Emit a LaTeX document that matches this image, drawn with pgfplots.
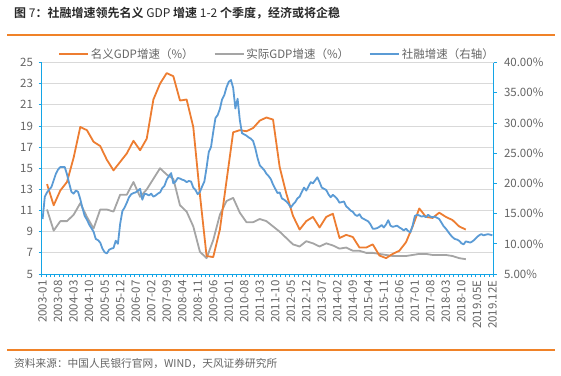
\documentclass[border=0pt]{standalone}
\usepackage{fontspec}
\setmainfont{Noto Sans CJK SC}[BoldFont={Noto Sans CJK SC Bold}]
\usepackage{pgfplots}
\pgfplotsset{compat=1.18}
\usepackage{pgfplotstable}

\definecolor{cOrange}{RGB}{237,125,49}
\definecolor{cGray}{RGB}{165,165,165}
\definecolor{cBlue}{RGB}{91,155,213}
\definecolor{cAxis}{RGB}{20,165,230}
\definecolor{cGrid}{RGB}{217,217,217}
\definecolor{cText}{RGB}{100,100,100}
\definecolor{cTitle}{RGB}{40,40,40}
\definecolor{cRule}{RGB}{240,130,40}

\pgfplotstableread{
x y
2 13.5
5 11.5
8 12.9
11 13.7
14 16.0
17 18.9
20 18.6
23 17.5
26 17.1
29 15.8
32 14.8
35 15.6
38 16.4
41 17.6
44 16.7
47 17.8
50 21.5
53 23.0
56 24.0
59 23.7
62 21.4
65 21.5
68 18.9
71 12.5
74 6.7
77 6.6
80 9.2
83 13.8
86 18.4
89 18.6
92 18.5
95 18.8
98 19.5
101 19.8
104 19.6
107 15.1
110 12.6
113 10.5
116 9.2
119 10.0
122 10.4
125 9.4
128 10.4
131 10.7
134 8.4
137 8.7
140 8.5
143 7.5
146 7.5
149 7.8
152 6.75
155 6.5
158 6.9
161 7.2
164 8.0
167 9.5
170 11.2
173 10.4
176 10.3
179 10.8
182 10.4
185 10.1
188 9.5
191 9.2
}\nominal

\pgfplotstableread{
x y
2 11.1
5 9.1
8 10.0
11 10.0
14 10.6
17 11.7
20 10.4
23 9.3
26 11.1
29 11.1
32 10.9
35 12.5
38 12.5
41 13.7
44 12.3
47 13.0
50 14.0
53 15.0
56 14.4
59 14.0
62 11.5
65 10.9
68 9.5
71 7.1
74 6.5
77 8.2
80 10.6
83 11.9
86 12.2
89 10.8
92 9.9
95 9.9
98 10.2
101 10.0
104 9.5
107 9.0
110 8.4
113 7.8
116 7.6
119 8.1
122 7.9
125 7.6
128 7.9
131 7.7
134 7.4
137 7.5
140 7.2
143 7.2
146 7.0
149 7.0
152 6.9
155 6.8
158 6.7
161 6.7
164 6.7
167 6.8
170 6.9
173 6.9
176 6.8
179 6.8
182 6.8
185 6.7
188 6.5
191 6.4
}\real

\pgfplotstableread{
x y
0 14.1
1 17.8
2 18.5
3 19.0
4 19.4
5 20.5
6 21.6
7 22.3
8 22.7
9 22.7
10 22.7
11 21.5
12 20.0
13 18.6
14 18.3
15 18.8
16 18.6
17 17.4
18 15.9
19 14.6
20 14.0
21 13.2
22 12.6
23 12.0
24 10.8
25 10.6
26 10.2
27 9.2
28 8.6
29 8.4
30 9.0
31 9.2
32 9.3
33 10.5
34 10.0
35 13.3
36 15.4
37 16.0
38 16.8
39 17.7
40 18.2
41 18.4
42 18.5
43 18.8
44 19.1
45 17.3
46 18.3
47 18.2
48 18.0
49 18.3
50 17.8
51 18.0
52 18.3
53 18.5
54 19.2
55 19.6
56 20.6
57 21.2
58 21.7
59 20.0
60 20.3
61 20.9
62 20.8
63 20.6
64 20.5
65 20.2
66 20.4
67 20.3
68 19.3
69 18.9
70 18.2
71 18.6
72 19.5
73 20.3
74 22.6
75 25.2
76 26.0
77 28.5
78 30.8
79 31.3
80 32.3
81 33.9
82 34.6
83 35.9
84 36.8
85 37.1
86 35.8
87 32.4
88 34.0
89 30.5
90 28.3
91 28.1
92 27.9
93 27.6
94 27.4
95 27.0
96 25.8
97 24.2
98 23.0
99 22.6
100 22.2
101 21.6
102 21.2
103 20.7
104 19.8
105 19.1
106 18.4
107 18.5
108 17.5
109 17.3
110 17.0
111 16.6
112 16.0
113 16.5
114 16.9
115 17.5
116 17.8
117 18.6
118 19.3
119 18.8
120 19.5
121 20.2
122 20.0
123 20.5
124 21.0
125 20.2
126 19.3
127 19.1
128 18.9
129 18.2
130 17.7
131 18.1
132 17.8
133 17.4
134 16.8
135 16.9
136 17.0
137 16.2
138 15.9
139 15.5
140 15.3
141 14.8
142 14.6
143 14.9
144 14.3
145 14.1
146 13.9
147 13.7
148 13.2
149 12.5
150 12.5
151 12.6
152 12.8
153 13.1
154 12.7
155 13.2
156 13.9
157 13.0
158 12.8
159 12.9
160 13.0
161 12.7
162 12.5
163 12.2
164 12.5
165 12.1
166 11.9
167 13.0
168 14.6
169 14.8
170 14.7
171 14.5
172 14.6
173 14.4
174 14.8
175 14.5
176 14.4
177 14.5
178 14.3
179 14.1
180 13.5
181 12.9
182 12.5
183 12.0
184 11.5
185 11.1
186 10.8
187 10.7
188 10.5
189 10.1
190 9.9
191 10.4
192 10.3
193 10.2
194 10.4
195 10.7
196 11.1
197 11.4
198 11.6
199 11.4
200 11.5
201 11.6
202 11.5
203 11.4
}\tsf

\newcommand{\tickfont}{\fontsize{11.5bp}{13bp}\selectfont}

\begin{document}
\begin{tikzpicture}[x=1bp,y=1bp]
\useasboundingbox (0,0) rectangle (561,375);

% title and rules
\node[anchor=west, inner sep=0pt, text=cTitle] at (14,362) {\fontsize{12bp}{14bp}\selectfont\bfseries 图 {\mdseries 7}：社融增速领先名义 {\mdseries GDP} 增速 {\mdseries 1-2} 个季度，经济或将企稳};
\draw[cRule, line width=1.3bp] (7,340) -- (555,340);
\draw[cRule, line width=1.3bp] (7,25) -- (555,25);
\node[anchor=west, inner sep=0pt, text=cText] at (14,11) {\fontsize{10.7bp}{12bp}\selectfont 资料来源：中国人民银行官网，WIND，天风证券研究所};

\begin{axis}[
  at={(41.5bp,101bp)}, anchor=south west,
  scale only axis, width=452bp, height=211.5bp,
  xmin=-0.5, xmax=203.5, ymin=5, ymax=25,
  axis x line*=bottom, axis y line*=left,
  axis line style={draw=cAxis, line width=1bp},
  ytick={5,7,...,25},
  ymajorgrids, grid style={draw=cGrid, line width=0.9bp},
  xtick={0,7,...,203},
  xticklabels={2003-01,2003-08,2004-03,2004-10,2005-05,2005-12,2006-07,2007-02,2007-09,2008-04,2008-11,2009-06,2010-01,2010-08,2011-03,2011-10,2012-05,2012-12,2013-07,2014-02,2014-09,2015-04,2015-11,2016-06,2017-01,2017-08,2018-03,2018-10,2019.05E,2019.12E},
  minor xtick={-0.5,1.5,...,203.5},
  tick align=outside, major tick length=3bp, minor tick length=3bp,
  tick style={draw=cAxis, line width=0.8bp},
  major x tick style={draw=none},
  ticklabel style={font=\tickfont, text=cText},
  yticklabel style={xshift=-2bp},
  xticklabel style={rotate=90, anchor=east},
  /pgf/number format/assume math mode=true,
]
\addplot[cGray, line width=1.8bp, line join=round] table {\real};
\addplot[cOrange, line width=1.8bp, line join=round] table {\nominal};
\end{axis}

\begin{axis}[
  at={(41.5bp,101bp)}, anchor=south west,
  scale only axis, width=452bp, height=211.5bp,
  xmin=-0.5, xmax=203.5, ymin=5, ymax=40,
  axis x line=none, axis y line*=right,
  axis line style={draw=cAxis, line width=1bp},
  ytick={5,10,...,40},
  yticklabels={5.00\%,10.00\%,15.00\%,20.00\%,25.00\%,30.00\%,35.00\%,40.00\%},
  tick align=outside, major tick length=3bp,
  tick style={draw=cAxis, line width=0.8bp},
  ticklabel style={font=\tickfont, text=cText},
  yticklabel style={xshift=4bp},
  legend style={draw=none, fill=none, legend columns=3,
    at={(0.521,1.04)}, anchor=center,
    font=\fontsize{11.5bp}{13bp}\selectfont, text=cText,
    /tikz/every even column/.append style={column sep=18bp}},
  legend image code/.code={\draw[#1] (0bp,0bp) -- (29bp,0bp);},
]
\addlegendimage{cOrange, line width=1.8bp}
\addlegendentry{名义GDP增速（\%）}
\addlegendimage{cGray, line width=1.8bp}
\addlegendentry{实际GDP增速（\%）}
\addplot[cBlue, line width=1.8bp, line join=round] table {\tsf};
\addlegendentry{社融增速（右轴）}
\end{axis}
\end{tikzpicture}
\end{document}
